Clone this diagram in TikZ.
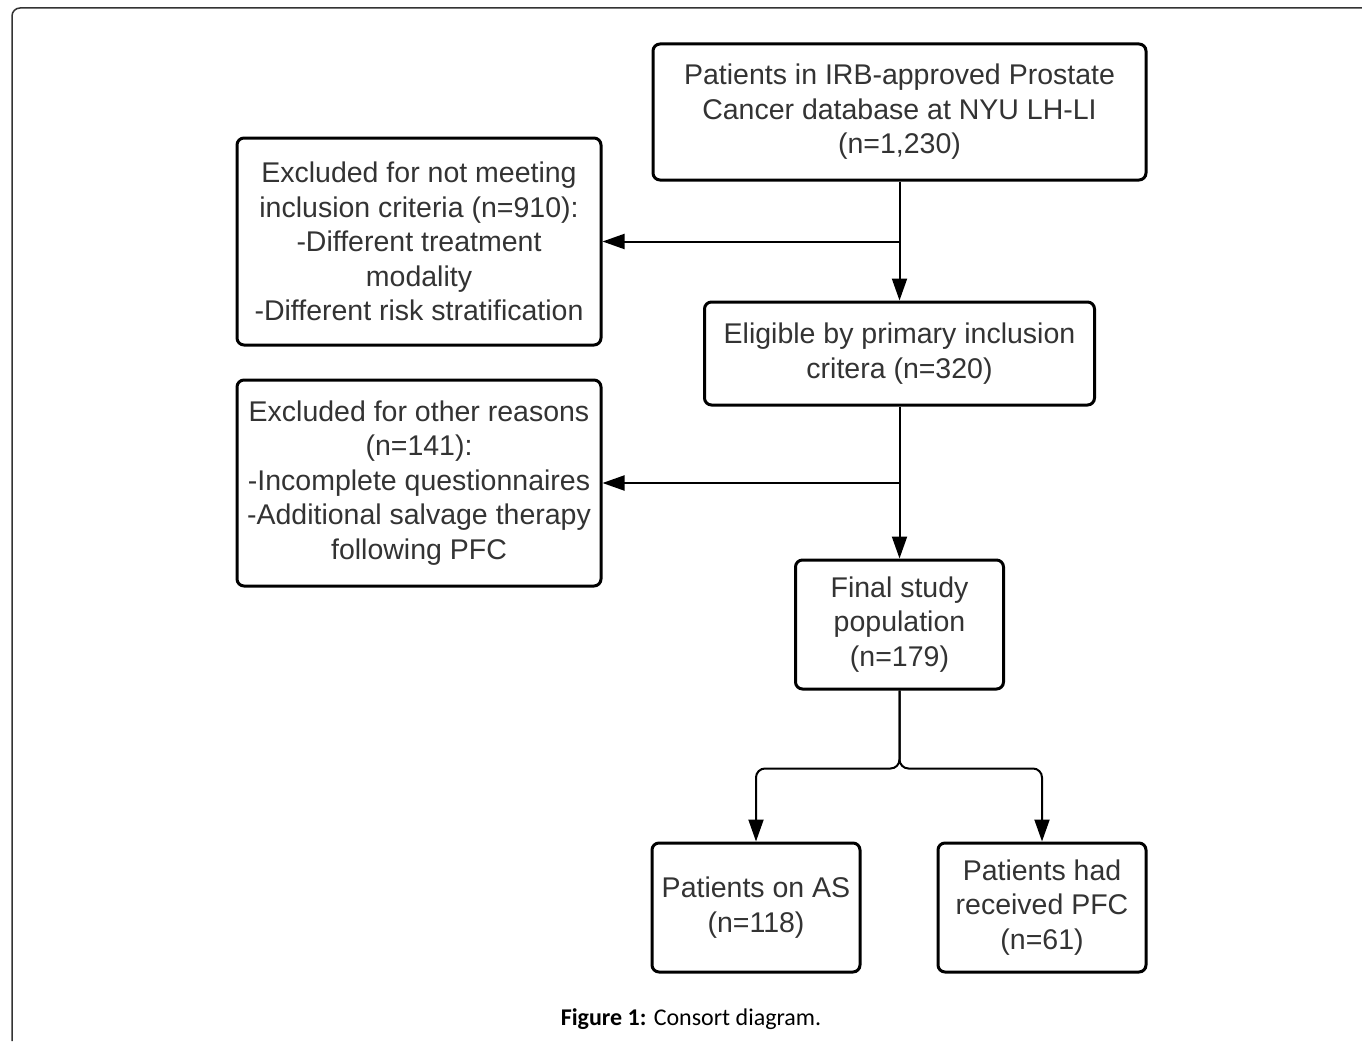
\documentclass[tikz,border=0pt]{standalone}
\usepackage{fontspec}
\setmainfont[Ligatures=NoCommon]{Liberation Sans}
\newfontfamily\capfont{Carlito}
\usetikzlibrary{arrows.meta,calc}
\definecolor{txt}{HTML}{333333}
\tikzset{
  flowbox/.style={draw=black, line width=3pt, rounded corners=7pt, inner sep=0pt,
    align=center, text=txt, font=\fontsize{28.5}{34.5}\selectfont},
  flowarr/.style={draw=black, line width=2pt, -{Triangle[length=22pt,width=15pt]}},
}
\begin{document}
\begin{tikzpicture}[x=1pt,y=-1pt]
\useasboundingbox (0,0) rectangle (1362,1041);
\fill[white] (0,0) rectangle (1362,1041);
% outer frame
\draw[line width=1.5pt, draw=black!80] (12,1041) -- (12,16) arc[start angle=180,end angle=270,radius=8] -- (1362,8);

\node[flowbox, minimum width=493pt, minimum height=136pt] (b1) at (899.5,112)
  {Patients in IRB-approved Prostate\\Cancer database at NYU LH-LI\\(n=1,230)};
\node[flowbox, minimum width=364pt, minimum height=207pt] (b2) at (419,241.5)
  {Excluded for not meeting\\inclusion criteria (n=910):\\-Different treatment\\modality\\-Different risk stratification};
\node[flowbox, minimum width=390pt, minimum height=103pt] (b3) at (899.5,353.5)
  {Eligible by primary inclusion\\critera (n=320)};
\node[flowbox, minimum width=364pt, minimum height=206pt] (b4) at (419,483)
  {Excluded for other reasons\\(n=141):\\-Incomplete questionnaires\\-Additional salvage therapy\\following PFC};
\node[flowbox, minimum width=208pt, minimum height=129pt] (b5) at (899.5,624.5)
  {Final study\\population\\(n=179)};
\node[flowbox, minimum width=208pt, minimum height=129pt] (b6) at (756,907.5)
  {Patients on AS\\(n=118)};
\node[flowbox, minimum width=208pt, minimum height=129pt] (b7) at (1042,907.5)
  {Patients had\\received PFC\\(n=61)};

\coordinate (j1) at (b1.south |- b2.east);
\coordinate (j2) at (b3.south |- b4.east);
\coordinate (j3) at ($(b5.south)+(0,78)$);

\draw[flowarr] (b1.south) -- (b3.north);
\draw[flowarr] (j1) -- (b2.east);
\draw[flowarr] (b3.south) -- (b5.north);
\draw[flowarr] (j2) -- (b4.east);
\draw[flowarr, rounded corners=9pt] (b5.south) |- (b6.north |- j3) -- (b6.north);
\draw[flowarr, rounded corners=9pt] (b5.south) |- (b7.north |- j3) -- (b7.north);

\node[font=\capfont\fontsize{24}{28}\selectfont, text=black] (cap) at (691,1019)
  {\textbf{Figure 1:} Consort diagram.};
\end{tikzpicture}
\end{document}
